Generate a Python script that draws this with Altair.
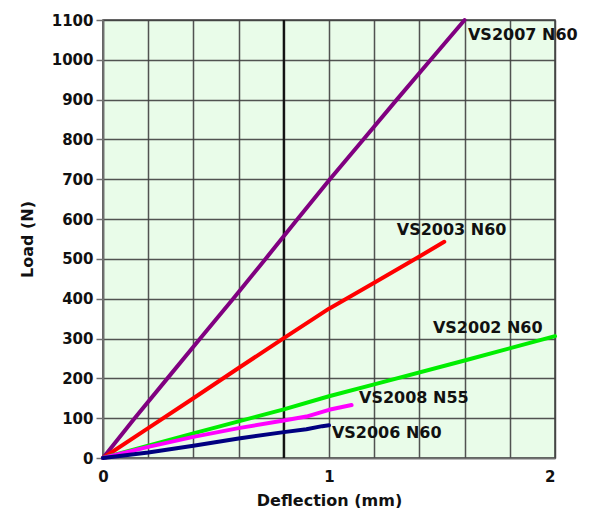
import altair as alt
import pandas as pd

# ---- data ----
series_names = ["VS2007 N60", "VS2003 N60", "VS2002 N60", "VS2008 N55", "VS2006 N60"]
series_colors = ["#800080", "#ff0000", "#00ee00", "#ff00ff", "#000080"]

x_2007 = [0, 0.14, 0.285, 0.43, 0.576, 0.719, 0.861, 1.004, 1.152, 1.30, 1.45, 1.60]
y_2007 = [0, 100, 200, 300, 400, 500, 600, 700, 800, 900, 1000, 1100]

x_2003 = [0, 0.2, 0.4, 0.6, 0.8, 1.0, 1.2, 1.4, 1.51]
y_2003 = [0, 75, 150, 226, 301, 375, 440, 506, 543]

x_2002 = [0, 0.4, 0.8, 1.0, 1.2, 1.6, 2.0]
y_2002 = [0, 62, 122, 155, 185, 245, 306]

x_2008 = [0, 0.2, 0.4, 0.6, 0.8, 0.9, 1.0, 1.1]
y_2008 = [0, 28, 53, 75, 94, 104, 121, 133]

x_2006 = [0, 0.2, 0.4, 0.6, 0.8, 0.9, 0.97, 1.0]
y_2006 = [0, 14, 31, 49, 65, 72, 80, 82]

label_text = ["VS2007 N60", "VS2003 N60", "VS2002 N60", "VS2008 N55", "VS2006 N60"]
label_x = [1.615, 1.30, 1.46, 1.133, 1.013]
label_y = [1063, 573, 327, 151, 63]

x_ticks = [0, 0.2, 0.4, 0.6, 0.8, 1, 1.2, 1.4, 1.6, 1.8, 2]
y_ticks = [0, 100, 200, 300, 400, 500, 600, 700, 800, 900, 1000, 1100]
dark_line_x = [0.8]

# ---- build tables ----
xs = [x_2007, x_2003, x_2002, x_2008, x_2006]
ys = [y_2007, y_2003, y_2002, y_2008, y_2006]
rows = []
for name, xv, yv in zip(series_names, xs, ys):
    for i, (a, b) in enumerate(zip(xv, yv)):
        rows.append({"series": name, "x": a, "y": b, "i": i})
df = pd.DataFrame(rows)
labels_df = pd.DataFrame({"text": label_text, "x": label_x, "y": label_y})
rule_df = pd.DataFrame({"x": dark_line_x})

xscale = alt.Scale(domain=[0, 2], nice=False, zero=True)
yscale = alt.Scale(domain=[0, 1100], nice=False)

x_axis = alt.Axis(
    values=x_ticks,
    title="Deflection (mm)",
    labelExpr="datum.value == 0 ? '0' : datum.value == 1 ? '1' : datum.value == 2 ? '2' : ''",
    labelFlush=False,
    labelOverlap=False,
    labelAlign={"condition": {"test": "datum.value == 2", "value": "right"}, "value": "center"},
    ticks=True,
    tickSize=0,
    labelPadding=11,
    titlePadding=8,
)
y_axis = alt.Axis(
    values=y_ticks,
    format="d",
    title="Load (N)",
    tickSize=7,
    labelPadding=3,
    titlePadding=16,
    labelOverlap=False,
)

rule = alt.Chart(rule_df).mark_rule(color="#111111", strokeWidth=2.2).encode(
    x=alt.X("x:Q", scale=xscale, axis=x_axis)
)

lines = alt.Chart(df).mark_line(strokeWidth=4, strokeCap="round", strokeJoin="round").encode(
    x=alt.X("x:Q", scale=xscale, axis=x_axis),
    y=alt.Y("y:Q", scale=yscale, axis=y_axis),
    color=alt.Color("series:N", scale=alt.Scale(domain=series_names, range=series_colors), legend=None),
    order="i:Q",
)

texts = alt.Chart(labels_df).mark_text(
    align="left", baseline="middle", font="DejaVu Sans", fontWeight="bold",
    fontSize=16, color="#111111"
).encode(
    x=alt.X("x:Q", scale=xscale, axis=x_axis),
    y=alt.Y("y:Q", scale=yscale, axis=y_axis),
    text="text:N",
)

chart = alt.layer(rule, lines, texts).properties(
    width=452,
    height=438,
    autosize=alt.AutoSizeParams(type="none"),
    padding={"left": 95, "top": 12, "right": 35, "bottom": 50},
).configure_axis(
    labelFont="DejaVu Sans",
    labelFontWeight="bold",
    labelFontSize=15,
    labelColor="#111111",
    titleFont="DejaVu Sans",
    titleFontWeight="bold",
    titleFontSize=16,
    titleColor="#111111",
    gridColor="#404040",
    gridWidth=1.5,
    gridOpacity=0.9,
    domainColor="#707070",
    domainWidth=1.5,
    tickColor="#707070",
    tickWidth=1.5,
).configure_view(
    fill="#e9fce9",
    stroke="#404040",
    strokeWidth=1.5,
)

chart.save("out.html", embed_options={"renderer": "svg", "actions": False})
